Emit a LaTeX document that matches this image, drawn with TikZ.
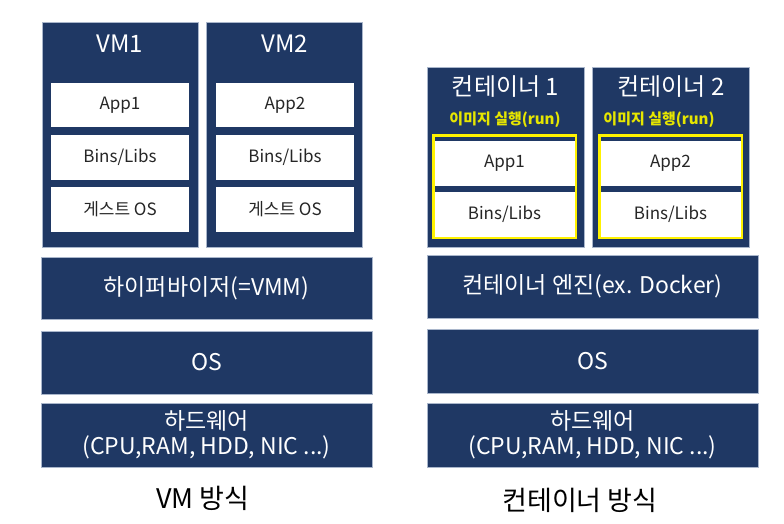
\documentclass[tikz,border=0pt]{standalone}
\usepackage{fontspec}
\setmainfont{Noto Sans CJK KR}
\definecolor{navy}{HTML}{1F3864}
\definecolor{edge}{HTML}{A9B6CB}
\definecolor{runyellow}{HTML}{E6E600}
\newcommand{\fs}[1]{\fontsize{#1}{#1}\selectfont}

\begin{document}
\begin{tikzpicture}[x=1pt, y=-1pt,
	layer/.style={fill=navy, draw=edge, line width=.6pt, text=white, align=center, inner sep=0pt},
	slot/.style={fill=white, inner sep=0pt, text=black!85, font=\fs{17}},
	yframe/.style={fill=navy, draw=yellow, line width=2.5pt, inner sep=0pt}]
	\useasboundingbox (0,0) rectangle (784,523);

	\foreach \i/\x/\sx in {1/120/120, 2/284.5/285} {
		\node[layer, minimum width=156pt, minimum height=225pt] (vm\i) at (\x,134.5) {};
		\node[text=white, font=\fs{24}] (vmname\i) at (\x,44) {VM\i};
		\node[slot, minimum width=138pt, minimum height=44pt] (vmapp\i) at (\sx,105) {App\i};
		\node[slot, minimum width=138pt, minimum height=45pt] (vmbins\i) at (\sx,157.5) {Bins/Libs};
		\node[slot, minimum width=138pt, minimum height=45pt] (guest\i) at (\sx,209.5) {게스트 OS};
	}
	\node[layer, minimum width=331pt, minimum height=62pt, font=\fs{23}] (hyp) at (206.5,288) {하이퍼바이저(=VMM)};
	\node[layer, minimum width=331pt, minimum height=63pt, font=\fs{23}] (vmos) at (206.5,362.5) {OS};
	\node[layer, minimum width=331pt, minimum height=64pt, font=\fontsize{23}{25}\selectfont] (vmhw) at (206.5,435) {하드웨어\\(CPU,RAM, HDD, NIC ...)};
	\node[font=\fs{27}] (vmcap) at (203,498) {VM 방식};

	\foreach \i/\x/\fx/\rx in {1/505.5/504.5/505, 2/671/670.5/659} {
		\node[layer, minimum width=157pt, minimum height=180pt] (ct\i) at (\x,157) {};
		\node[text=white, font=\fs{24}] (ctname\i) at (\x,87) {컨테이너 \i};
		\node[text=runyellow, font=\bfseries\fs{15}] (run\i) at (\rx,120) {이미지 실행(run)};
		\node[yframe, minimum width=142.5pt, minimum height=102.5pt] (img\i) at (\fx,186.5) {};
		\node[slot, minimum width=140pt, minimum height=45pt] (ctapp\i) at (\fx,163.5) {App\i};
		\node[slot, minimum width=140pt, minimum height=44.5pt] (ctbins\i) at (\fx,214.25) {Bins/Libs};
	}
	\node[layer, minimum width=331pt, minimum height=63pt, font=\fs{23}] (engine) at (592.5,286.5) {컨테이너 엔진(ex. Docker)};
	\node[layer, minimum width=331pt, minimum height=64pt, font=\fs{23}] (ctos) at (592.5,361) {OS};
	\node[layer, minimum width=331pt, minimum height=64pt, font=\fontsize{23}{25}\selectfont] (cthw) at (592.5,435) {하드웨어\\(CPU,RAM, HDD, NIC ...)};
	\node[font=\fs{27}] (ctcap) at (580,500) {컨테이너 방식};
\end{tikzpicture}
\end{document}
